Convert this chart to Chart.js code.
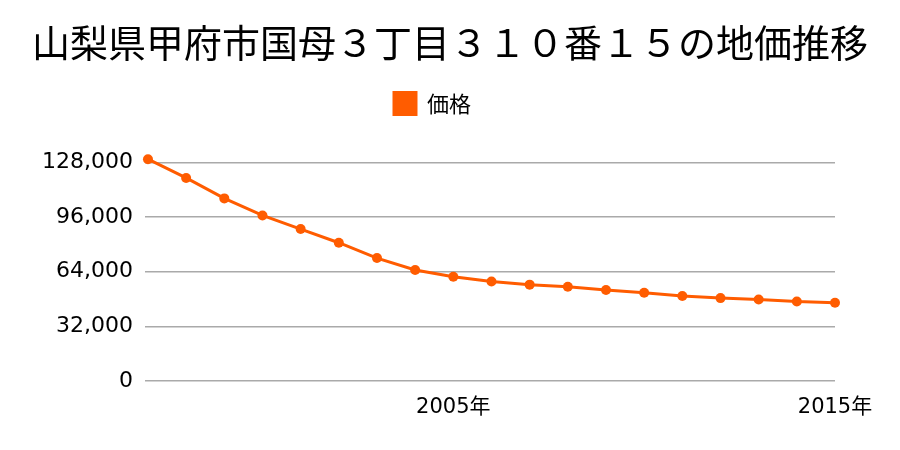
<!DOCTYPE html>
<html><head><meta charset="utf-8">
<script src="https://cdn.jsdelivr.net/npm/chart.js@4"></script>
<style>html,body{margin:0;padding:0;background:#fff}#wrap{width:900px;height:450px}</style>
</head><body><div id="wrap"><canvas id="c" width="900" height="450"></canvas></div>
<script>
const years = ['1997','1998','1999','2000','2001','2002','2003','2004','2005','2006','2007','2008','2009','2010','2011','2012','2013','2014','2015'];
const prices = [130000,119000,107000,97000,89000,81000,72000,65000,61000,58300,56400,55200,53300,51700,49700,48500,47700,46500,45800];
const yTicks = [0,32000,64000,96000,128000];
const shownYears = ['2005','2015'];
const titleText = '山梨県甲府市国母３丁目３１０番１５の地価推移';
const seriesName = '価格';
const FONT = '"Noto Sans CJK JP", "Noto Sans", sans-serif';
const NUMFONT = '"DejaVu Sans", "Noto Sans CJK JP", sans-serif';
const COLOR = '#ff5c00';

const layoutFix = {
  id: 'layoutFix',
  beforeInit(chart) {
    const orig = chart.legend.fit;
    chart.legend.fit = function() { orig.call(this); this.height += 38; };
  },
  afterLayout(chart) {
    // let the title use the full canvas width (no squeezing by layout padding)
    chart.titleBlock.left = 0;
    chart.titleBlock.right = chart.width;
    chart.titleBlock.width = chart.width;
  }
};

new Chart(document.getElementById('c'), {
  type: 'line',
  data: {
    labels: years,
    datasets: [{
      label: seriesName,
      data: prices,
      borderColor: COLOR,
      backgroundColor: COLOR,
      borderWidth: 3,
      pointRadius: 5,
      pointHoverRadius: 5,
      pointBackgroundColor: COLOR,
      pointBorderWidth: 0,
      tension: 0,
      clip: false
    }]
  },
  plugins: [layoutFix],
  options: {
    responsive: false,
    animation: false,
    layout: { padding: { left: 30, right: 65, top: 0, bottom: 24 } },
    plugins: {
      title: { display: true, text: titleText, color: '#000', font: { family: FONT, size: 38, weight: 'normal' }, padding: { top: 20, bottom: 15 } },
      legend: { display: true, labels: { color: '#000', font: { family: FONT, size: 22 }, boxWidth: 22, boxHeight: 22, padding: 12 } },
      tooltip: { enabled: false }
    },
    scales: {
      x: {
        offset: false,
        grid: { display: false },
        border: { display: false },
        ticks: {
          autoSkip: false, maxRotation: 0, color: '#000', font: { family: NUMFONT, size: 21 }, padding: 6,
          callback: function(v, i) { const y = years[i]; return shownYears.includes(y) ? y + '年' : ''; }
        }
      },
      y: {
        min: 0, max: 128000,
        afterBuildTicks: function(s) { s.ticks = yTicks.map(v => ({ value: v })); },
        grid: { color: '#aaaaaa', lineWidth: 1.5, tickLength: 3 },
        border: { display: false },
        ticks: { color: '#000', font: { family: NUMFONT, size: 22 }, padding: 12,
          callback: v => v.toLocaleString('en-US') }
      }
    }
  }
});
</script></body></html>
